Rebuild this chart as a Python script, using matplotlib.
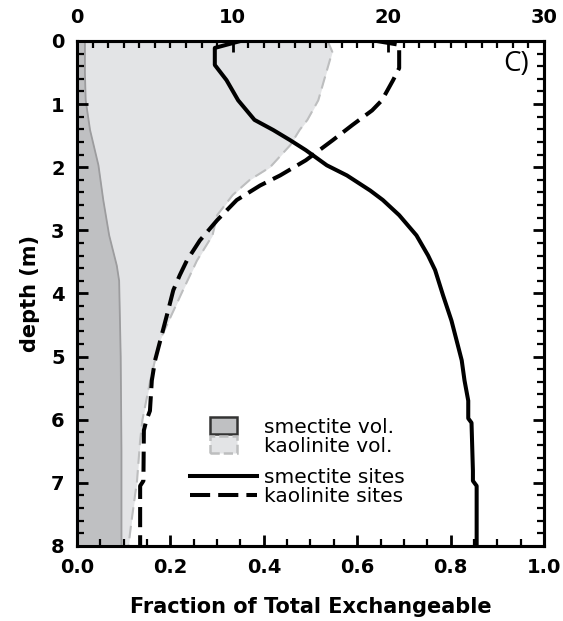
# Exchange-site partitioning vs depth (panel C)
import numpy as np
import matplotlib.pyplot as plt
import matplotlib.patches as mpatches
from matplotlib.legend_handler import HandlerPatch
from matplotlib.lines import Line2D
from matplotlib.ticker import MultipleLocator

# ------------------------------------------
# Data
# ------------------------------------------

# volume percent (top axis, 0-30)
smec_vol_depth = [0.0, 0.5, 0.94, 1.41, 1.97, 2.52, 3.08, 3.56, 3.8, 5.0, 6.5, 8.0]
smec_vol = [0.5, 0.5, 0.55, 0.83, 1.37, 1.68, 2.06, 2.55, 2.7, 2.8, 2.85, 2.85]

kaol_vol_depth = [0.0, 0.17, 0.94, 1.25, 1.41, 1.65, 2.0, 2.2, 2.44, 2.76, 3.08,
                  3.48, 3.95, 4.75, 5.38, 6.0, 6.33, 6.97, 7.6, 8.0]
kaol_vol = [16.1, 16.4, 15.5, 14.8, 14.3, 13.7, 12.4, 11.1, 10.0, 9.0, 8.7,
            7.7, 6.8, 5.3, 4.7, 4.2, 4.05, 3.85, 3.5, 3.3]

# fraction of total exchangeable (bottom axis, 0-1)
smec_site_depth = [0.0, 0.11, 0.38, 0.62, 0.94, 1.25, 1.41, 1.57, 1.73, 1.97,
                   2.13, 2.37, 2.52, 2.76, 3.08, 3.40, 3.63, 4.03, 4.43, 4.83,
                   5.06, 5.38, 5.70, 5.98, 6.05, 6.81, 6.97, 7.05, 8.0]
smec_sites = [0.35, 0.295, 0.295, 0.32, 0.345, 0.38, 0.42, 0.456, 0.49, 0.535,
              0.578, 0.628, 0.655, 0.69, 0.727, 0.752, 0.767, 0.784, 0.802, 0.816,
              0.824, 0.83, 0.838, 0.838, 0.845, 0.848, 0.848, 0.856, 0.856]

kaol_site_depth = [0.0, 0.06, 0.43, 0.62, 0.94, 1.10, 1.33, 1.57, 1.89, 2.13,
                   2.29, 2.52, 2.84, 3.16, 3.48, 3.71, 3.95, 4.27, 4.75, 5.06,
                   5.38, 5.86, 6.02, 6.17, 6.97, 7.05, 8.0]
kaol_sites = [0.642, 0.69, 0.69, 0.677, 0.653, 0.632, 0.59, 0.548, 0.49, 0.435,
              0.392, 0.342, 0.3, 0.263, 0.235, 0.22, 0.206, 0.195, 0.178, 0.167,
              0.16, 0.156, 0.148, 0.143, 0.142, 0.135, 0.135]

vol_labels = ["smectite vol.", "kaolinite vol."]
site_labels = ["smectite sites", "kaolinite sites"]

DARK_FILL = "#bfc0c2"
DARK_EDGE = "#9c9c9e"
LIGHT_FILL = "#e3e4e6"
LIGHT_EDGE = "#bdbebf"
DASH = (0, (5, 2))

plt.rcParams["font.family"] = ["DejaVu Sans"]

# ------------------------------------------
# Figure
# ------------------------------------------

fig = plt.figure(figsize=(5.63, 6.21), dpi=100)
ax = fig.add_axes([0.137, 0.121, 0.829, 0.813])
ax_top = ax.twiny()

# volume areas on the top axis
ax_top.fill_betweenx(kaol_vol_depth, 0, kaol_vol, color=LIGHT_FILL, lw=0, zorder=1)
ax_top.plot(kaol_vol, kaol_vol_depth, color=LIGHT_EDGE, lw=1.5, ls=(0, (6, 3)), zorder=2)
ax_top.fill_betweenx(smec_vol_depth, 0, smec_vol, color=DARK_FILL, lw=0, zorder=3)
ax_top.plot(smec_vol, smec_vol_depth, color=DARK_EDGE, lw=1.3, zorder=4)
ax_top.set_xlim(0, 30)
ax_top.set_ylim(8, 0)

# site fractions on the bottom axis (drawn above the twin axes)
ax.set_zorder(ax_top.get_zorder() + 1)
ax.patch.set_visible(False)
ax.plot(smec_sites, smec_site_depth, color="black", lw=2.9, zorder=5)
ax.plot(kaol_sites, kaol_site_depth, color="black", lw=2.9, ls=DASH, zorder=5)

ax.set_xlim(0, 1)
ax.set_ylim(8, 0)

# ------------------------------------------
# Ticks / spines
# ------------------------------------------

ax.xaxis.set_major_locator(MultipleLocator(0.2))
ax.xaxis.set_minor_locator(MultipleLocator(0.05))
ax.yaxis.set_major_locator(MultipleLocator(1))
ax.yaxis.set_minor_locator(MultipleLocator(0.2))
ax.xaxis.set_major_formatter(plt.FuncFormatter(lambda v, p: f"{v:.1f}"))

ax_top.xaxis.set_major_locator(MultipleLocator(10))
ax_top.xaxis.set_minor_locator(MultipleLocator(1))

ax.tick_params(axis="x", which="both", direction="in", bottom=True, top=False)
ax.tick_params(axis="y", which="both", direction="in", left=True, right=True)
ax.tick_params(which="major", length=8, width=2, labelsize=14)
ax.tick_params(axis="x", which="major", pad=9)
ax.tick_params(axis="y", which="major", pad=9)
ax.tick_params(which="minor", length=5, width=1.6)
ax_top.tick_params(which="both", direction="in", width=1.6)
ax_top.tick_params(which="major", length=8, width=2, labelsize=14, pad=10)
ax_top.tick_params(which="minor", length=5)

for lab in ax.get_xticklabels() + ax.get_yticklabels() + ax_top.get_xticklabels():
    lab.set_fontweight("bold")

# bottom depth label sits on the axis line, as in the original
fig.canvas.draw()
ylabs = ax.get_yticklabels()
ylabs[-1].set_verticalalignment("bottom")

for a in (ax, ax_top):
    for s in a.spines.values():
        s.set_linewidth(2.2)

ax.set_xlabel("Fraction of Total Exchangeable", fontsize=15, fontweight="bold", labelpad=14)
ax.set_ylabel("depth (m)", fontsize=15, fontweight="bold", labelpad=8)

ax.text(0.968, 0.955, "C)", transform=ax.transAxes, ha="right", va="center",
        fontsize=20, family="Open Sans", zorder=6)

# ------------------------------------------
# Legend (two stacked groups)
# ------------------------------------------

def small_box(legend, orig_handle, xdescent, ydescent, width, height, fontsize):
    h = height * 1.2
    w = h * 1.6
    cx = -xdescent + width / 2
    cy = -ydescent + height / 2
    return mpatches.Rectangle((cx - w / 2, cy - h / 2), w, h)

vol_handles = [
    mpatches.Patch(facecolor=DARK_FILL, edgecolor="#333333", lw=1.8),
    mpatches.Patch(facecolor=LIGHT_FILL, edgecolor=LIGHT_EDGE, lw=1.8, ls="--"),
]
site_handles = [
    Line2D([], [], color="black", lw=2.9),
    Line2D([], [], color="black", lw=2.9, ls=DASH),
]

leg_kw = dict(loc="upper left", frameon=False, fontsize=14.5, labelspacing=0.0,
              handlelength=3.3, handletextpad=0.35, borderpad=0, borderaxespad=0)

leg1 = ax.legend(vol_handles, vol_labels, bbox_to_anchor=(0.242, 0.254),
                 handler_map={mpatches.Patch: HandlerPatch(patch_func=small_box)},
                 **leg_kw)
ax.add_artist(leg1)
leg2 = ax.legend(site_handles, site_labels, bbox_to_anchor=(0.242, 0.154), **leg_kw)
leg1.set_zorder(7)
leg2.set_zorder(7)

plt.savefig("out.png", dpi=100)
